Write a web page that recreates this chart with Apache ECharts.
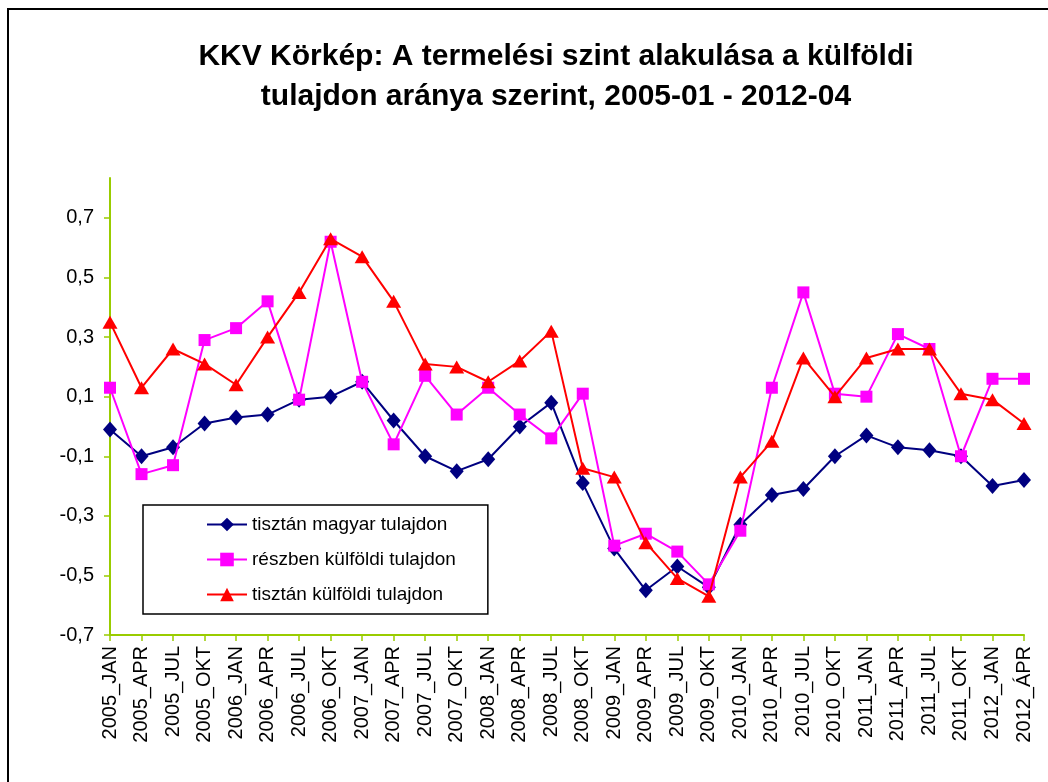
<!DOCTYPE html>
<html>
<head>
<meta charset="utf-8">
<script src="https://cdn.jsdelivr.net/npm/echarts@6.0.0/dist/echarts.min.js"></script>
<style>
  html, body { margin: 0; padding: 0; background: #fff; }
  #chart { width: 1048px; height: 782px; }
</style>
</head>
<body>
<div id="chart"></div>
<script>
// negyedéves kategóriák
const categories = [
  '2005_JAN', '2005_APR', '2005_JUL', '2005_OKT',
  '2006_JAN', '2006_APR', '2006_JUL', '2006_OKT',
  '2007_JAN', '2007_APR', '2007_JUL', '2007_OKT',
  '2008_JAN', '2008_APR', '2008_JUL', '2008_OKT',
  '2009_JAN', '2009_APR', '2009_JUL', '2009_OKT',
  '2010_JAN', '2010_APR', '2010_JUL', '2010_OKT',
  '2011_JAN', '2011_APR', '2011_JUL', '2011_OKT',
  '2012_JAN', '2012_ÁPR'
];

const magyar = [-0.01, -0.10, -0.07, 0.01, 0.03, 0.04, 0.09, 0.10, 0.15, 0.02,
  -0.10, -0.15, -0.11, 0.00, 0.08, -0.19, -0.41, -0.55, -0.47, -0.54,
  -0.33, -0.23, -0.21, -0.10, -0.03, -0.07, -0.08, -0.10, -0.20, -0.18];

const reszben = [0.13, -0.16, -0.13, 0.29, 0.33, 0.42, 0.09, 0.62, 0.15, -0.06,
  0.17, 0.04, 0.13, 0.04, -0.04, 0.11, -0.40, -0.36, -0.42, -0.53,
  -0.35, 0.13, 0.45, 0.11, 0.10, 0.31, 0.26, -0.10, 0.16, 0.16];

const kulfoldi = [0.35, 0.13, 0.26, 0.21, 0.14, 0.30, 0.45, 0.63, 0.57, 0.42,
  0.21, 0.20, 0.15, 0.22, 0.32, -0.14, -0.17, -0.39, -0.51, -0.57,
  -0.17, -0.05, 0.23, 0.10, 0.23, 0.26, 0.26, 0.11, 0.09, 0.01];

const yTicks = [-0.7, -0.5, -0.3, -0.1, 0.1, 0.3, 0.5, 0.7];

const font = '"Liberation Sans", Arial, sans-serif';
const axisColor = '#99CC00';

const chart = echarts.init(document.getElementById('chart'));

const option = {
  backgroundColor: '#fff',
  animation: false,
  textStyle: { fontFamily: font },
  graphic: [
    {
      type: 'rect',
      shape: { x: 8, y: 9, width: 1100, height: 900 },
      style: { fill: 'none', stroke: '#000', lineWidth: 2 },
      silent: true
    },
    {
      type: 'text',
      x: 556,
      y: 37,
      style: {
        text: 'KKV Körkép: A termelési szint alakulása a külföldi\ntulajdon aránya szerint, 2005-01 - 2012-04',
        font: 'bold 30px ' + font,
        fill: '#000',
        align: 'center',
        verticalAlign: 'top',
        lineHeight: 40
      }
    }
  ],
  legend: {
    orient: 'vertical',
    left: 143,
    top: 505,
    padding: [10, 32, 10, 63],
    itemGap: 16,
    itemWidth: 40,
    itemHeight: 17,
    borderColor: '#000',
    borderWidth: 1.5,
    backgroundColor: '#fff',
    textStyle: { fontSize: 19, color: '#000', fontFamily: font }
  },
  grid: { left: 110, right: 24, top: 178, bottom: 147, containLabel: false },
  xAxis: {
    type: 'category',
    data: categories,
    boundaryGap: false,
    axisLine: { onZero: false, lineStyle: { color: axisColor, width: 2 } },
    axisTick: { show: true, length: 6, lineStyle: { color: axisColor, width: 1.5 } },
    axisLabel: {
      interval: 0,
      rotate: 90,
      margin: 11,
      fontSize: 20,
      color: '#000',
      fontFamily: font
    },
    splitLine: { show: false }
  },
  yAxis: {
    type: 'value',
    min: -0.7,
    max: 0.834,
    axisLine: { show: true, lineStyle: { color: axisColor, width: 2 } },
    axisTick: {
      show: true,
      length: 6,
      customValues: yTicks,
      lineStyle: { color: axisColor, width: 1.5 }
    },
    axisLabel: {
      customValues: yTicks,
      margin: 16,
      fontSize: 20,
      color: '#000',
      fontFamily: font,
      formatter: v => v.toFixed(1).replace('.', ',')
    },
    splitLine: { show: false }
  },
  series: [
    {
      name: 'tisztán magyar tulajdon',
      type: 'line',
      data: magyar,
      symbol: 'diamond',
      symbolSize: [14, 16],
      color: '#000080',
      lineStyle: { width: 2, color: '#000080' },
      z: 3
    },
    {
      name: 'részben külföldi tulajdon',
      type: 'line',
      data: reszben,
      symbol: 'rect',
      symbolSize: 12,
      color: '#FF00FF',
      lineStyle: { width: 2, color: '#FF00FF' },
      z: 4
    },
    {
      name: 'tisztán külföldi tulajdon',
      type: 'line',
      data: kulfoldi,
      symbol: 'triangle',
      symbolSize: [15, 13],
      color: '#FF0000',
      lineStyle: { width: 2, color: '#FF0000' },
      z: 5
    }
  ]
};

chart.setOption(option);
</script>
</body>
</html>
